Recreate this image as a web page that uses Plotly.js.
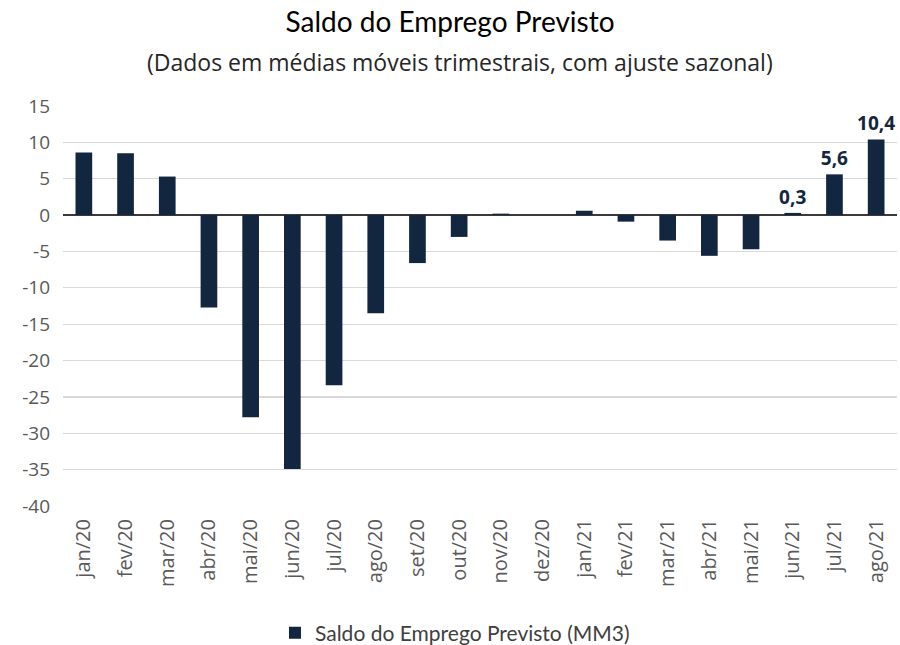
<!DOCTYPE html>
<html>
<head>
<meta charset="utf-8">
<script src="https://cdn.plot.ly/plotly-3.0.1.min.js"></script>
<style>html,body{margin:0;padding:0;background:#fff;}#chart{width:900px;height:645px;}</style>
</head>
<body>
<div id="chart"></div>
<script>
const categories = ['jan/20','fev/20','mar/20','abr/20','mai/20','jun/20','jul/20','ago/20','set/20','out/20','nov/20','dez/20','jan/21','fev/21','mar/21','abr/21','mai/21','jun/21','jul/21','ago/21'];
const saldo = [8.6, 8.5, 5.3, -12.7, -27.8, -34.9, -23.4, -13.5, -6.6, -3.0, 0.2, 0.0, 0.6, -0.9, -3.5, -5.6, -4.7, 0.3, 5.6, 10.4];
const labelled = ['jun/21','jul/21','ago/21'];
const yTicks = [15, 10, 5, 0, -5, -10, -15, -20, -25, -30, -35, -40];

const labels = categories.map((c, i) => labelled.includes(c) ? saldo[i].toFixed(1).replace('.', ',') : '');

const trace = {
  type: 'bar',
  x: categories,
  y: saldo,
  name: 'Saldo do Emprego Previsto (MM3)',
  marker: {color: '#12263F'},
  text: labels,
  textposition: 'outside',
  constraintext: 'none',
  cliponaxis: false,
  textfont: {family: '"Open Sans", sans-serif', size: 19, color: '#12263F', weight: 'bold'},
  hoverinfo: 'x+y'
};

const layout = {
  width: 900, height: 645,
  margin: {l: 63, r: 3, t: 106, b: 139, autoexpand: false},
  paper_bgcolor: '#ffffff', plot_bgcolor: '#ffffff',
  title: {text: 'Saldo do Emprego Previsto', font: {family: 'Lato, "Open Sans", sans-serif', size: 28, color: '#000000', weight: 'normal'},
          x: 0.5, xanchor: 'center', yref: 'container', y: 1 - 22/645, yanchor: 'middle'},
  annotations: [{
    text: '(Dados em médias móveis trimestrais, com ajuste sazonal)',
    xref: 'paper', yref: 'paper', x: (460 - 63) / 834, y: 1 + 44/400, xanchor: 'center', yanchor: 'middle',
    showarrow: false, font: {family: '"Open Sans", sans-serif', size: 23, color: '#262626'}
  }],
  bargap: 0.6,
  showlegend: true,
  legend: {orientation: 'h', x: 0.47, xanchor: 'center', yref: 'container', y: 1 - 633/645, yanchor: 'middle',
           font: {family: 'Lato, "Open Sans", sans-serif', size: 21, color: '#404040'}},
  xaxis: {type: 'category', tickangle: -90, showgrid: false, zeroline: false, showline: false, automargin: false,
          ticks: '', ticklabelstandoff: 8, tickfont: {family: '"Open Sans", sans-serif', size: 20, color: '#595959'}},
  yaxis: {range: [-40, 15], tickvals: yTicks, ticktext: yTicks.map(String), showgrid: true, automargin: false,
          gridcolor: '#d9d9d9', gridwidth: 1.3, zeroline: true, zerolinecolor: '#3a3a3a', zerolinewidth: 1.5,
          showline: false, ticks: '', ticklabelstandoff: 12,
          tickfont: {family: '"Open Sans", sans-serif', size: 19, color: '#595959'}}
};

Plotly.newPlot('chart', [trace], layout, {displayModeBar: false, staticPlot: true});
</script>
</body>
</html>
